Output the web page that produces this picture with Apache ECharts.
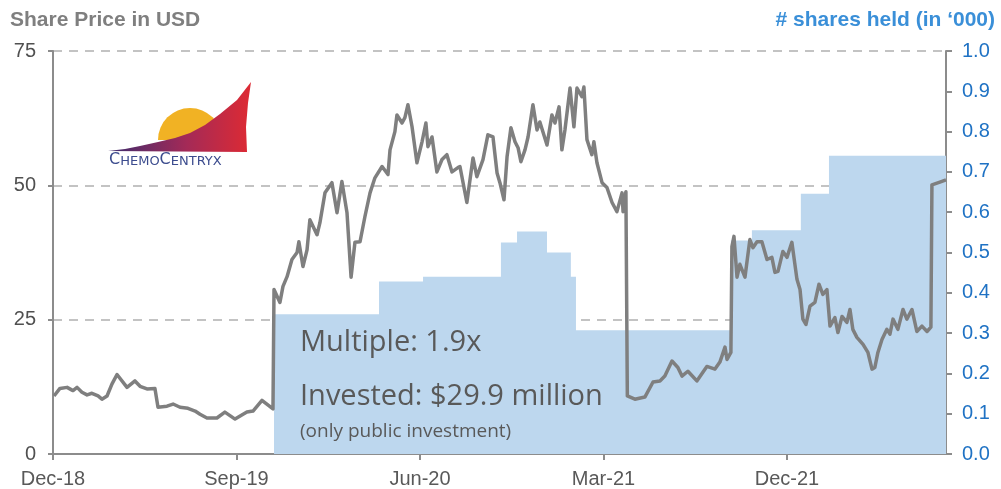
<!DOCTYPE html>
<html>
<head>
<meta charset="utf-8">
<script src="https://cdn.jsdelivr.net/npm/echarts@6/dist/echarts.min.js"></script>
<style>
  html, body { margin: 0; padding: 0; background: #ffffff; }
  #chart { width: 1001px; height: 489px; }
</style>
</head>
<body>
<div id="chart"></div>
<script>
// Time is measured in months since Dec-18 (0 = Dec-18).
const monthTicks = [0, 9, 18, 27, 36];
const monthLabels = ['Dec-18', 'Sep-19', 'Jun-20', 'Mar-21', 'Dec-21'];

// ChemoCentryx share price in USD: [month, price]
const sharePrice = [
  [0.05, 10.8], [0.34, 12.2], [0.69, 12.4], [0.98, 11.8], [1.18, 12.4], [1.42, 11.5],
  [1.67, 11.0], [1.91, 11.3], [2.21, 10.8], [2.40, 10.2], [2.65, 10.8], [2.89, 13.0],
  [3.14, 14.8], [3.63, 12.4], [4.02, 13.6], [4.27, 12.6], [4.61, 12.1], [5.00, 12.2],
  [5.15, 8.7], [5.59, 8.9], [5.89, 9.3], [6.23, 8.7], [6.62, 8.5], [6.97, 8.0],
  [7.21, 7.4], [7.55, 6.7], [8.04, 6.7], [8.43, 7.8], [8.93, 6.5], [9.51, 7.8],
  [9.81, 8.0], [10.25, 10.0], [10.79, 8.4],
  [10.84, 30.6], [11.13, 28.2], [11.28, 31.2], [11.48, 33.0], [11.72, 36.2], [11.97, 37.5],
  [12.06, 39.5], [12.26, 34.9], [12.46, 38.0], [12.60, 43.6], [12.95, 40.8], [13.09, 43.0],
  [13.34, 48.6], [13.68, 50.5], [13.93, 44.9], [14.17, 50.7], [14.42, 44.9], [14.62, 32.9],
  [14.81, 39.4], [15.06, 39.5], [15.30, 44.2], [15.55, 48.6], [15.79, 51.4], [16.14, 53.5],
  [16.43, 52.0], [16.53, 56.6], [16.77, 60.0], [16.87, 63.1], [17.12, 61.6], [17.26, 62.6],
  [17.41, 65.0], [17.61, 60.9], [17.85, 54.2], [18.10, 58.1], [18.29, 61.6], [18.39, 57.2],
  [18.59, 59.0], [18.83, 52.5], [19.08, 54.8], [19.32, 55.7], [19.57, 52.5], [19.86, 53.3],
  [19.96, 53.5], [20.30, 46.8], [20.60, 55.1], [20.79, 51.6], [21.09, 54.8], [21.33, 59.4],
  [21.58, 59.0], [21.78, 52.3], [21.92, 50.5], [22.12, 47.3], [22.27, 55.3], [22.46, 60.7],
  [22.66, 58.1], [22.81, 57.0], [22.95, 54.4], [23.15, 56.6], [23.30, 59.0], [23.54, 65.0],
  [23.74, 60.3], [23.88, 61.8], [24.23, 57.5], [24.47, 63.1], [24.62, 61.6], [24.82, 64.6],
  [24.96, 56.6], [25.11, 60.3], [25.36, 68.1], [25.55, 60.9], [25.70, 68.1], [25.94, 66.5],
  [26.04, 68.3], [26.19, 58.5], [26.43, 55.7], [26.53, 58.1], [26.68, 54.2], [26.93, 50.5],
  [27.17, 49.6], [27.42, 46.8], [27.66, 45.1], [27.91, 48.6], [27.96, 45.1], [28.10, 48.8],
  [28.17, 10.8], [28.54, 10.2], [29.03, 10.6], [29.43, 13.4], [29.77, 13.6], [30.01, 14.5],
  [30.36, 17.3], [30.65, 16.1], [30.85, 14.5], [31.14, 15.4], [31.58, 13.6], [32.07, 16.3],
  [32.47, 15.8], [32.71, 17.1], [32.96, 19.9], [33.06, 17.6], [33.25, 18.9],
  [33.30, 38.6], [33.40, 40.5], [33.55, 32.9], [33.69, 35.3], [33.94, 32.9], [34.18, 39.9],
  [34.33, 38.4], [34.53, 39.5], [34.77, 39.5], [35.02, 36.2], [35.26, 36.6], [35.41, 33.8],
  [35.56, 34.0], [35.80, 37.7], [36.00, 36.6], [36.24, 39.4], [36.49, 32.5], [36.64, 30.6],
  [36.78, 25.1], [36.93, 24.1], [37.13, 27.5], [37.37, 28.2], [37.57, 31.6], [37.76, 29.7],
  [37.96, 30.6], [38.11, 23.8], [38.35, 25.4], [38.50, 22.6], [38.70, 25.6], [38.94, 24.5],
  [39.09, 26.9], [39.23, 23.2], [39.43, 21.7], [39.73, 20.4], [39.97, 18.9], [40.17, 15.8],
  [40.31, 16.1], [40.46, 18.9], [40.66, 21.3], [40.90, 23.2], [41.05, 22.3], [41.20, 25.1],
  [41.44, 23.2], [41.69, 26.9], [41.88, 25.1], [42.13, 26.9], [42.37, 22.8], [42.62, 23.8],
  [42.87, 22.8], [43.06, 23.6],
  [43.11, 50.1], [43.50, 50.6], [43.80, 51.0]
];

// Shares held (in '000), step changes: [month, shares]
const sharesHeld = [
  [10.84, 0.347], [15.99, 0.428], [18.15, 0.44], [21.97, 0.525], [22.76, 0.552],
  [24.23, 0.50], [25.40, 0.44], [25.65, 0.307], [33.25, 0.53], [34.28, 0.555],
  [36.68, 0.646], [38.06, 0.74], [43.80, 0.74]
];

const annotation = {
  multiple: 'Multiple: 1.9x',
  invested: 'Invested: $29.9 million',
  note: '(only public investment)'
};

const axisGray = '#8c8c8c';
const labelFont = 'Liberation Sans, Arial, sans-serif';

const chart = echarts.init(document.getElementById('chart'), null, { renderer: 'canvas' });

chart.setOption({
  animation: false,
  backgroundColor: '#ffffff',
  grid: { left: 53, right: 55, top: 51, bottom: 34, containLabel: false },
  xAxis: {
    type: 'value',
    min: 0,
    max: 43.8,
    axisLine: { show: true, onZero: false, lineStyle: { color: axisGray, width: 2 } },
    axisTick: { show: true, length: 6, customValues: monthTicks, lineStyle: { color: axisGray, width: 2 } },
    axisLabel: {
      customValues: monthTicks,
      formatter: v => monthLabels[monthTicks.indexOf(v)] || '',
      color: '#595959', fontSize: 20, fontFamily: labelFont, margin: 15
    },
    splitLine: { show: false }
  },
  yAxis: [
    {
      type: 'value', position: 'left', min: 0, max: 75, interval: 25,
      axisLine: { show: true, lineStyle: { color: axisGray, width: 2 } },
      axisTick: { show: true, length: 5, lineStyle: { color: axisGray, width: 2 } },
      axisLabel: { color: '#505050', fontSize: 20, fontFamily: labelFont, margin: 17 },
      splitLine: { show: true, lineStyle: { color: '#c3c3c3', width: 2, type: [9, 7] } }
    },
    {
      type: 'value', position: 'right', min: 0, max: 1, interval: 0.1,
      axisLine: { show: true, lineStyle: { color: axisGray, width: 2 } },
      axisTick: { show: true, length: 6, lineStyle: { color: axisGray, width: 2 } },
      axisLabel: { color: '#1f72c4', fontSize: 20, fontFamily: labelFont, margin: 16,
        formatter: v => v.toFixed(1) },
      splitLine: { show: false }
    }
  ],
  series: [
    {
      name: 'Shares held',
      type: 'line',
      yAxisIndex: 1,
      step: 'end',
      data: sharesHeld,
      symbol: 'none',
      lineStyle: { width: 0 },
      areaStyle: { color: '#bdd7ee', opacity: 1 },
      z: 1
    },
    {
      name: 'Share price',
      type: 'line',
      yAxisIndex: 0,
      data: sharePrice,
      symbol: 'none',
      lineStyle: { color: '#7f7f7f', width: 3.5, join: 'round' },
      z: 3
    }
  ],
  graphic: [
    // axis titles
    { type: 'text', x: 10, y: 20, z: 20,
      style: { text: 'Share Price in USD', fill: '#7f7f7f', fontSize: 21, fontWeight: 'bold',
        fontFamily: labelFont, align: 'left', verticalAlign: 'middle' } },
    { type: 'text', x: 995, y: 20, z: 20,
      style: { text: '# shares held (in \u2018000)', fill: '#3a8fd8', fontSize: 21, fontWeight: 'bold',
        fontFamily: labelFont, align: 'right', verticalAlign: 'middle' } },
    // investment notes
    { type: 'text', x: 300, y: 343, z: 20,
      style: { text: annotation.multiple, fill: '#595959', fontSize: 29,
        fontFamily: 'Open Sans, sans-serif', align: 'left', verticalAlign: 'middle' } },
    { type: 'text', x: 300, y: 397, z: 20,
      style: { text: annotation.invested, fill: '#595959', fontSize: 29,
        fontFamily: 'Open Sans, sans-serif', align: 'left', verticalAlign: 'middle' } },
    { type: 'text', x: 300, y: 432, z: 20,
      style: { text: annotation.note, fill: '#595959', fontSize: 19,
        fontFamily: 'Open Sans, sans-serif', align: 'left', verticalAlign: 'middle' } },
    // company logo: sun, swoosh and wordmark
    { type: 'sector', z: 20,
      shape: { cx: 190, cy: 140, r: 32, startAngle: Math.PI, endAngle: 2 * Math.PI },
      style: { fill: '#f1b224' } },
    { type: 'polygon', z: 21,
      shape: { points: [[108, 151], [125, 149], [140, 146], [158, 142], [175, 138], [190, 133],
        [205, 125], [220, 114], [237, 100], [251, 82], [248, 103], [246, 127], [247, 152]] },
      style: { fill: new echarts.graphic.LinearGradient(0, 0, 1, 0, [
        { offset: 0, color: '#3d2b6e' }, { offset: 0.55, color: '#a42a57' }, { offset: 1, color: '#de2a33' }
      ]) } },
    { type: 'text', x: 109, y: 168, z: 21,
      style: { text: '{a|C}{b|HEMO}{a|C}{b|ENTRYX}', fill: '#3c4c8e',
        fontFamily: 'DejaVu Sans, sans-serif', align: 'left', verticalAlign: 'bottom',
        rich: {
          a: { fontSize: 16, lineHeight: 16, verticalAlign: 'bottom', fill: '#3c4c8e', fontFamily: 'DejaVu Sans, sans-serif' },
          b: { fontSize: 13, lineHeight: 13, verticalAlign: 'bottom', fill: '#3c4c8e', fontFamily: 'DejaVu Sans, sans-serif' }
        } } }
  ]
});
</script>
</body>
</html>
